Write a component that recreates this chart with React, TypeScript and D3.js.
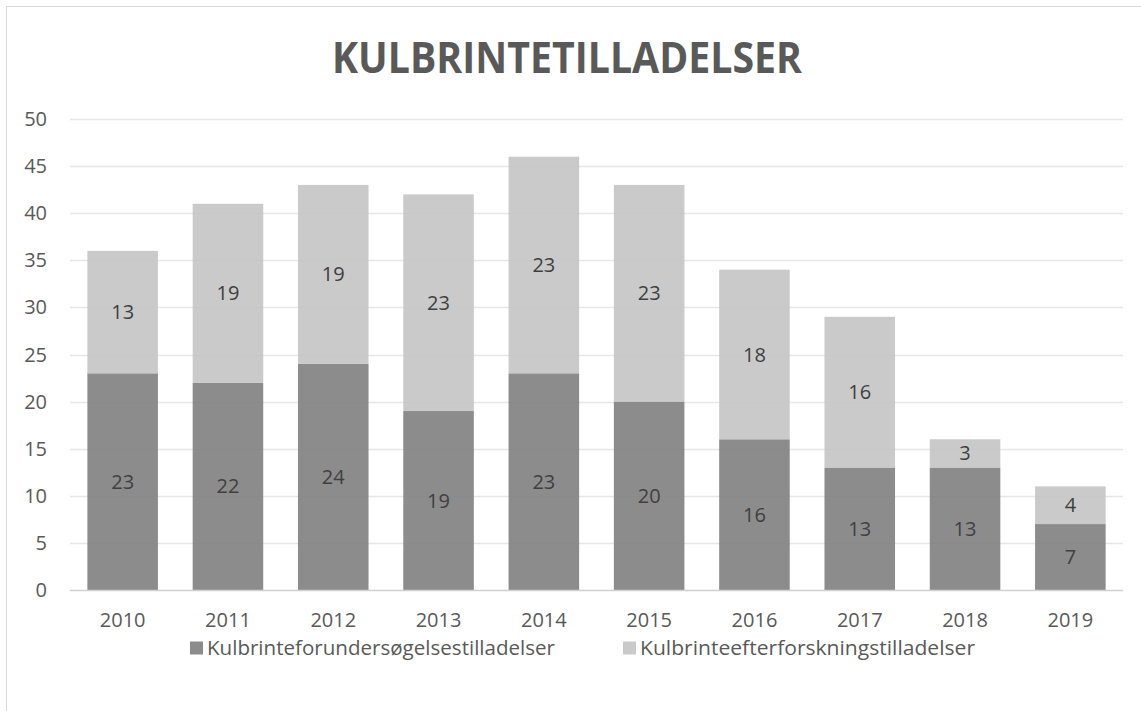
import React, { useEffect, useRef } from 'react'
import * as d3 from 'd3'

const years = ['2010', '2011', '2012', '2013', '2014', '2015', '2016', '2017', '2018', '2019']
const forundersoegelse = [23, 22, 24, 19, 23, 20, 16, 13, 13, 7]
const efterforskning = [13, 19, 19, 23, 23, 23, 18, 16, 3, 4]
const seriesNames = ['Kulbrinteforundersøgelsestilladelser', 'Kulbrinteefterforskningstilladelser']
const yTicks = [0, 5, 10, 15, 20, 25, 30, 35, 40, 45, 50]

const W = 1141
const H = 711
const font = '"Open Sans", sans-serif'

export default function App() {
  const ref = useRef<SVGSVGElement>(null)

  useEffect(() => {
    const svg = d3.select(ref.current)
    svg.selectAll('*').remove()

    const colors = ['#7f7f7f', '#c4c4c4']

    // chart frame
    svg.append('rect')
      .attr('x', 6.5).attr('y', 6.5)
      .attr('width', W).attr('height', H)
      .attr('fill', '#fff')
      .attr('stroke', '#d9d9d9')

    svg.append('text')
      .attr('x', 567).attr('y', 73)
      .attr('text-anchor', 'middle')
      .attr('font-family', font)
      .attr('font-weight', 700)
      .attr('font-size', 43)
      .attr('fill', '#595959')
      .attr('textLength', 470)
      .attr('lengthAdjust', 'spacingAndGlyphs')
      .text('KULBRINTETILLADELSER')

    const x = d3.scaleBand()
      .domain(years)
      .range([70, 1123])
      .paddingInner(0.33)
      .paddingOuter(0.165)

    const y = d3.scaleLinear().domain([0, 50]).range([590, 119])

    // gridlines
    svg.append('g')
      .selectAll('line')
      .data(yTicks.filter(d => d > 0))
      .enter().append('line')
        .attr('x1', 70).attr('x2', 1123)
        .attr('y1', d => Math.round(y(d)) + 0.5)
        .attr('y2', d => Math.round(y(d)) + 0.5)
        .attr('stroke', '#e6e6e6')
        .attr('stroke-width', 1.5)

    // y labels
    svg.append('g')
      .selectAll('text')
      .data(yTicks)
      .enter().append('text')
        .attr('x', 47)
        .attr('y', d => y(d))
        .attr('dy', '0.35em')
        .attr('text-anchor', 'end')
        .attr('font-family', font)
        .attr('font-size', 20)
        .attr('fill', '#595959')
        .text(d => d)

    // stacked bars
    const table = years.map((yr, i) => ({ year: yr, a: forundersoegelse[i], b: efterforskning[i] }))
    const stacked = d3.stack<any>().keys(['a', 'b'])(table)

    const layers = svg.append('g')
      .selectAll('g')
      .data(stacked)
      .enter().append('g')
        .attr('fill', (d, i) => colors[i])
        .attr('fill-opacity', 0.9)

    layers.selectAll('rect')
      .data(d => d)
      .enter().append('rect')
        .attr('x', (d: any) => x(d.data.year))
        .attr('y', (d: any) => y(d[1]))
        .attr('width', x.bandwidth())
        .attr('height', (d: any) => y(d[0]) - y(d[1]))

    // data labels
    layers.selectAll('text')
      .data(d => d)
      .enter().append('text')
        .attr('x', (d: any) => x(d.data.year) + x.bandwidth() / 2)
        .attr('y', (d: any) => y((d[0] + d[1]) / 2))
        .attr('dy', '0.35em')
        .attr('text-anchor', 'middle')
        .attr('font-family', font)
        .attr('font-size', 20)
        .attr('fill', '#404040')
        .attr('fill-opacity', 1)
        .text((d: any) => d[1] - d[0])

    // x axis line
    svg.append('line')
      .attr('x1', 70).attr('x2', 1123)
      .attr('y1', 590.5).attr('y2', 590.5)
      .attr('stroke', '#d0d0d0')
      .attr('stroke-width', 1.5)

    const xAxis = svg.append('g')
      .attr('transform', 'translate(0,590)')
      .call(d3.axisBottom(x).tickSize(0).tickPadding(0))
    xAxis.select('.domain').remove()
    xAxis.selectAll('text')
      .attr('font-family', font)
      .attr('font-size', 20)
      .attr('fill', '#595959')
      .attr('y', 37)
      .attr('dy', '0')

    // legend
    const legendX = [190, 623]
    const legendW = [348, 335]
    const legend = svg.append('g')
      .selectAll('g')
      .data(seriesNames)
      .enter().append('g')
        .attr('transform', (d, i) => 'translate(' + legendX[i] + ',648)')
    legend.append('rect')
      .attr('x', 0).attr('y', -6.5)
      .attr('width', 13).attr('height', 13)
      .attr('fill', (d, i) => colors[i])
      .attr('fill-opacity', 0.9)
    legend.append('text')
      .attr('x', 17)
      .attr('y', 0)
      .attr('dy', '0.35em')
      .attr('font-family', font)
      .attr('font-size', 20)
      .attr('fill', '#595959')
      .attr('textLength', (d, i) => legendW[i])
      .attr('lengthAdjust', 'spacingAndGlyphs')
      .text(d => d)
  }, [])

  return (
    <div style={{ position: 'absolute', left: 0, top: 0 }}>
      <svg ref={ref} width={W} height={H} style={{ display: 'block' }} />
    </div>
  )
}
